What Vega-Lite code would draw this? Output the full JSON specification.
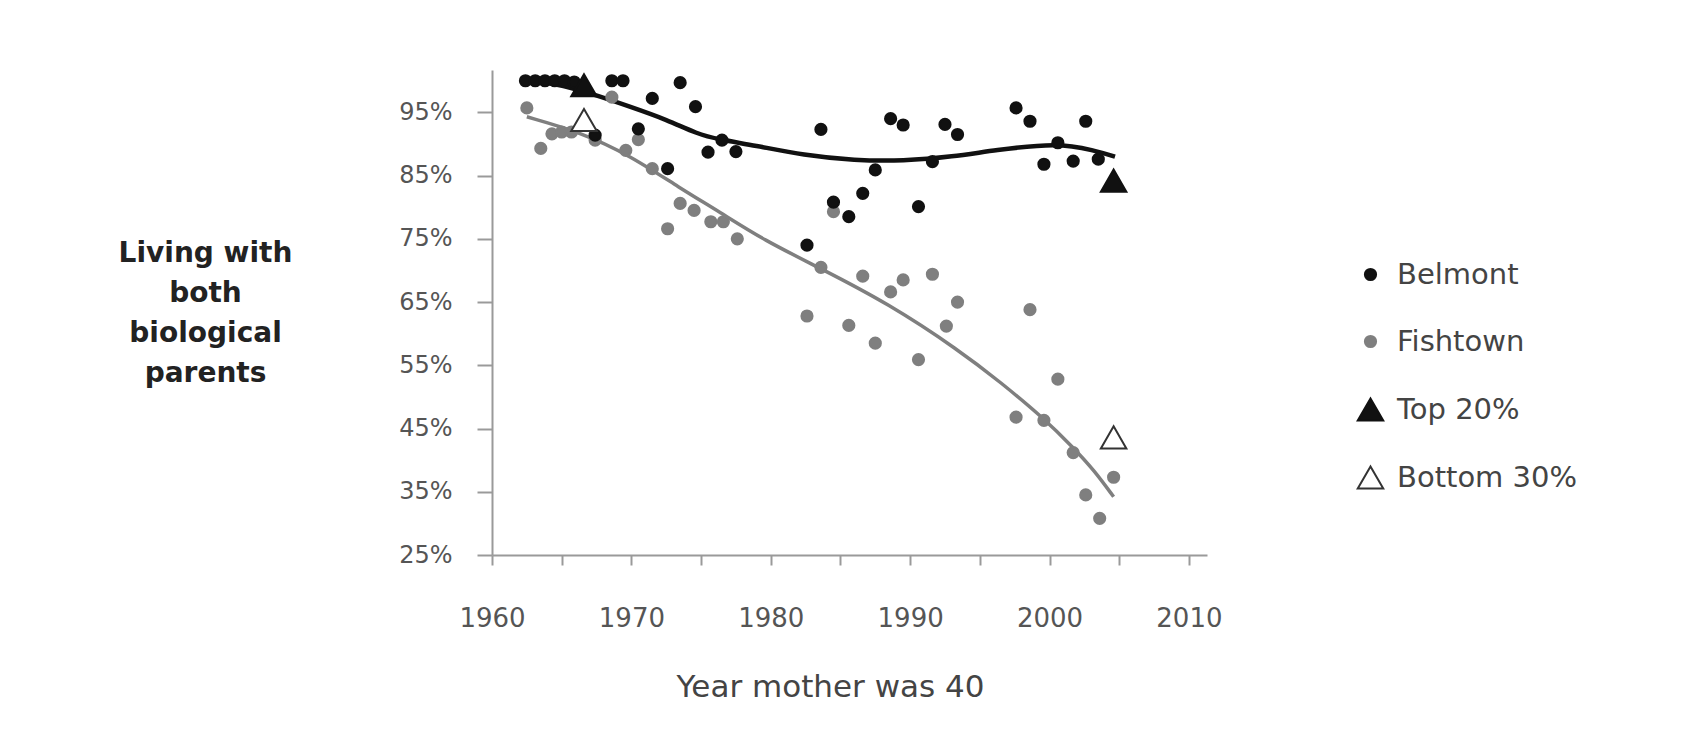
{
  "$schema": "https://vega.github.io/schema/vega-lite/v6.json",
  "width": 715,
  "height": 485,
  "autosize": {"type": "none"},
  "padding": {"left": 492, "top": 70, "right": 481, "bottom": 196},
  "background": "#ffffff",
  "config": {
    "font": "DejaVu Sans",
    "view": {"stroke": null},
    "axis": {
      "grid": false,
      "domainColor": "#9a9a9a",
      "domainWidth": 2,
      "tickColor": "#9a9a9a",
      "tickWidth": 2,
      "labelColor": "#555555",
      "labelFont": "DejaVu Sans",
      "labelFontSize": 24,
      "titleFont": "DejaVu Sans"
    },
    "legend": {
      "labelFont": "DejaVu Sans",
      "labelFontSize": 29,
      "labelColor": "#444444",
      "labelLimit": 0
    }
  },
  "datasets": {
    "pts": [
      {"series": "Fishtown", "year": 1962.5, "pct": 95.7},
      {"series": "Fishtown", "year": 1963.5, "pct": 89.3},
      {"series": "Fishtown", "year": 1964.3, "pct": 91.6},
      {"series": "Fishtown", "year": 1965.0, "pct": 91.9},
      {"series": "Fishtown", "year": 1965.7, "pct": 91.9},
      {"series": "Fishtown", "year": 1967.4, "pct": 90.6},
      {"series": "Fishtown", "year": 1968.6, "pct": 97.4},
      {"series": "Fishtown", "year": 1969.6, "pct": 89.0},
      {"series": "Fishtown", "year": 1970.5, "pct": 90.7},
      {"series": "Fishtown", "year": 1971.5, "pct": 86.1},
      {"series": "Fishtown", "year": 1972.6, "pct": 76.6},
      {"series": "Fishtown", "year": 1973.5, "pct": 80.6},
      {"series": "Fishtown", "year": 1974.5, "pct": 79.5},
      {"series": "Fishtown", "year": 1975.7, "pct": 77.7},
      {"series": "Fishtown", "year": 1976.6, "pct": 77.7},
      {"series": "Fishtown", "year": 1977.6, "pct": 75.0},
      {"series": "Fishtown", "year": 1982.6, "pct": 62.8},
      {"series": "Fishtown", "year": 1983.6, "pct": 70.5},
      {"series": "Fishtown", "year": 1984.5, "pct": 79.3},
      {"series": "Fishtown", "year": 1985.6, "pct": 61.3},
      {"series": "Fishtown", "year": 1986.6, "pct": 69.1},
      {"series": "Fishtown", "year": 1987.5, "pct": 58.5},
      {"series": "Fishtown", "year": 1988.6, "pct": 66.6},
      {"series": "Fishtown", "year": 1989.5, "pct": 68.5},
      {"series": "Fishtown", "year": 1990.6, "pct": 55.9},
      {"series": "Fishtown", "year": 1991.6, "pct": 69.4},
      {"series": "Fishtown", "year": 1992.6, "pct": 61.2},
      {"series": "Fishtown", "year": 1993.4, "pct": 65.0},
      {"series": "Fishtown", "year": 1997.6, "pct": 46.8},
      {"series": "Fishtown", "year": 1998.6, "pct": 63.8},
      {"series": "Fishtown", "year": 1999.6, "pct": 46.3},
      {"series": "Fishtown", "year": 2000.6, "pct": 52.8},
      {"series": "Fishtown", "year": 2001.7, "pct": 41.2},
      {"series": "Fishtown", "year": 2002.6, "pct": 34.5},
      {"series": "Fishtown", "year": 2003.6, "pct": 30.8},
      {"series": "Fishtown", "year": 2004.6, "pct": 37.3},
      {"series": "Belmont", "year": 1962.4, "pct": 100},
      {"series": "Belmont", "year": 1963.1, "pct": 100},
      {"series": "Belmont", "year": 1963.8, "pct": 100},
      {"series": "Belmont", "year": 1964.5, "pct": 100},
      {"series": "Belmont", "year": 1965.2, "pct": 100},
      {"series": "Belmont", "year": 1965.9, "pct": 99.8},
      {"series": "Belmont", "year": 1967.4, "pct": 91.4},
      {"series": "Belmont", "year": 1968.6, "pct": 100},
      {"series": "Belmont", "year": 1969.4, "pct": 100},
      {"series": "Belmont", "year": 1970.5, "pct": 92.4},
      {"series": "Belmont", "year": 1971.5, "pct": 97.2},
      {"series": "Belmont", "year": 1972.6, "pct": 86.1},
      {"series": "Belmont", "year": 1973.5, "pct": 99.7},
      {"series": "Belmont", "year": 1974.6, "pct": 95.9},
      {"series": "Belmont", "year": 1975.5, "pct": 88.7},
      {"series": "Belmont", "year": 1976.5, "pct": 90.6},
      {"series": "Belmont", "year": 1977.5, "pct": 88.8},
      {"series": "Belmont", "year": 1982.6, "pct": 74.0},
      {"series": "Belmont", "year": 1983.6, "pct": 92.3},
      {"series": "Belmont", "year": 1984.5, "pct": 80.8},
      {"series": "Belmont", "year": 1985.6, "pct": 78.5},
      {"series": "Belmont", "year": 1986.6, "pct": 82.2},
      {"series": "Belmont", "year": 1987.5, "pct": 85.9},
      {"series": "Belmont", "year": 1988.6, "pct": 94.0},
      {"series": "Belmont", "year": 1989.5, "pct": 93.0},
      {"series": "Belmont", "year": 1990.6, "pct": 80.1},
      {"series": "Belmont", "year": 1991.6, "pct": 87.2},
      {"series": "Belmont", "year": 1992.5, "pct": 93.1},
      {"series": "Belmont", "year": 1993.4, "pct": 91.5},
      {"series": "Belmont", "year": 1997.6, "pct": 95.7},
      {"series": "Belmont", "year": 1998.6, "pct": 93.6},
      {"series": "Belmont", "year": 1999.6, "pct": 86.8},
      {"series": "Belmont", "year": 2000.6, "pct": 90.2},
      {"series": "Belmont", "year": 2001.7, "pct": 87.3},
      {"series": "Belmont", "year": 2002.6, "pct": 93.6},
      {"series": "Belmont", "year": 2003.5, "pct": 87.6},
      {"series": "Top 20%", "year": 1966.6, "pct": 99.3},
      {"series": "Top 20%", "year": 2004.6, "pct": 84.2},
      {"series": "Bottom 30%", "year": 1966.6, "pct": 93.8},
      {"series": "Bottom 30%", "year": 2004.6, "pct": 43.6}
    ],
    "lines": [
      {"series": "Belmont", "year": 1962.4, "pct": 100},
      {"series": "Belmont", "year": 1964.5, "pct": 99.6},
      {"series": "Belmont", "year": 1967.1, "pct": 98.0},
      {"series": "Belmont", "year": 1969.9, "pct": 95.9},
      {"series": "Belmont", "year": 1972.6, "pct": 93.8},
      {"series": "Belmont", "year": 1974.7, "pct": 91.6},
      {"series": "Belmont", "year": 1976.3, "pct": 90.7},
      {"series": "Belmont", "year": 1978.8, "pct": 89.8},
      {"series": "Belmont", "year": 1982.4, "pct": 88.2},
      {"series": "Belmont", "year": 1986.0, "pct": 87.4},
      {"series": "Belmont", "year": 1989.5, "pct": 87.3},
      {"series": "Belmont", "year": 1993.1, "pct": 88.0},
      {"series": "Belmont", "year": 1996.0, "pct": 89.0},
      {"series": "Belmont", "year": 2000.6, "pct": 90.2},
      {"series": "Belmont", "year": 2003.2, "pct": 89.0},
      {"series": "Belmont", "year": 2004.7, "pct": 88.0},
      {"series": "Fishtown", "year": 1962.5, "pct": 94.3},
      {"series": "Fishtown", "year": 1966.3, "pct": 91.9},
      {"series": "Fishtown", "year": 1969.9, "pct": 88.2},
      {"series": "Fishtown", "year": 1973.5, "pct": 83.0},
      {"series": "Fishtown", "year": 1976.3, "pct": 79.3},
      {"series": "Fishtown", "year": 1979.5, "pct": 74.8},
      {"series": "Fishtown", "year": 1983.6, "pct": 70.3},
      {"series": "Fishtown", "year": 1988.4, "pct": 64.8},
      {"series": "Fishtown", "year": 1993.5, "pct": 57.4},
      {"series": "Fishtown", "year": 1996.5, "pct": 52.3},
      {"series": "Fishtown", "year": 1999.6, "pct": 46.6},
      {"series": "Fishtown", "year": 2001.7, "pct": 42.0},
      {"series": "Fishtown", "year": 2003.2, "pct": 38.4},
      {"series": "Fishtown", "year": 2004.6, "pct": 34.2}
    ]
  },
  "encoding": {
    "x": {
      "field": "year",
      "type": "quantitative",
      "scale": {"domain": [1960, 2011.3], "nice": false, "zero": false},
      "axis": {
        "title": "Year mother was 40",
        "values": [1960, 1965, 1970, 1975, 1980, 1985, 1990, 1995, 2000, 2005, 2010],
        "labelExpr": "datum.value % 10 === 0 ? '' + datum.value : ''",
        "tickSize": 10,
        "labelPadding": 40,
        "labelFontSize": 26,
        "labelFlush": false,
        "titleFontSize": 31,
        "titleFontWeight": "normal",
        "titleColor": "#444444",
        "titleAlign": "center",
        "titleBaseline": "alphabetic",
        "titleX": 338,
        "titleY": 141
      }
    },
    "y": {
      "field": "pct",
      "type": "quantitative",
      "scale": {"domain": [25, 101.7], "nice": false, "zero": false},
      "axis": {
        "title": ["Living with", "both", "biological", "parents"],
        "values": [25, 35, 45, 55, 65, 75, 85, 95],
        "labelExpr": "datum.value + '%'",
        "tickSize": 15,
        "labelPadding": 25,
        "labelFlush": false,
        "titleAngle": 0,
        "titleAlign": "center",
        "titleBaseline": "middle",
        "titleFontSize": 28,
        "titleFontWeight": "bold",
        "titleColor": "#222222",
        "titleLineHeight": 40,
        "titleX": -287,
        "titleY": 183
      }
    }
  },
  "layer": [
    {
      "data": {"name": "lines"},
      "transform": [{"filter": "datum.series === 'Fishtown'"}],
      "mark": {"type": "line", "color": "#7f7f7f", "strokeWidth": 3.5, "interpolate": "basis"}
    },
    {
      "data": {"name": "lines"},
      "transform": [{"filter": "datum.series === 'Belmont'"}],
      "mark": {"type": "line", "color": "#111111", "strokeWidth": 4.5, "interpolate": "basis"}
    },
    {
      "data": {"name": "pts"},
      "mark": {"type": "point", "filled": true, "opacity": 1, "strokeWidth": 2},
      "encoding": {
        "shape": {
          "field": "series", "type": "nominal",
          "scale": {"domain": ["Belmont", "Fishtown", "Top 20%", "Bottom 30%"], "range": ["circle", "circle", "triangle-up", "triangle-up"]},
          "legend": {"title": null}
        },
        "fill": {
          "field": "series", "type": "nominal",
          "scale": {"domain": ["Belmont", "Fishtown", "Top 20%", "Bottom 30%"], "range": ["#111111", "#7f7f7f", "#111111", "#ffffff"]},
          "legend": {"title": null}
        },
        "stroke": {
          "field": "series", "type": "nominal",
          "scale": {"domain": ["Belmont", "Fishtown", "Top 20%", "Bottom 30%"], "range": ["#111111", "#7f7f7f", "#111111", "#333333"]},
          "legend": {"title": null}
        },
        "size": {
          "field": "series", "type": "nominal",
          "scale": {"type": "ordinal", "domain": ["Belmont", "Fishtown", "Top 20%", "Bottom 30%"], "range": [125, 125, 650, 650]},
          "legend": {
            "title": null,
            "orient": "none",
            "legendX": 864,
            "legendY": 190,
            "padding": 0,
            "rowPadding": 37,
            "labelOffset": 12,
            "symbolStrokeWidth": 2
          }
        }
      }
    }
  ]
}
